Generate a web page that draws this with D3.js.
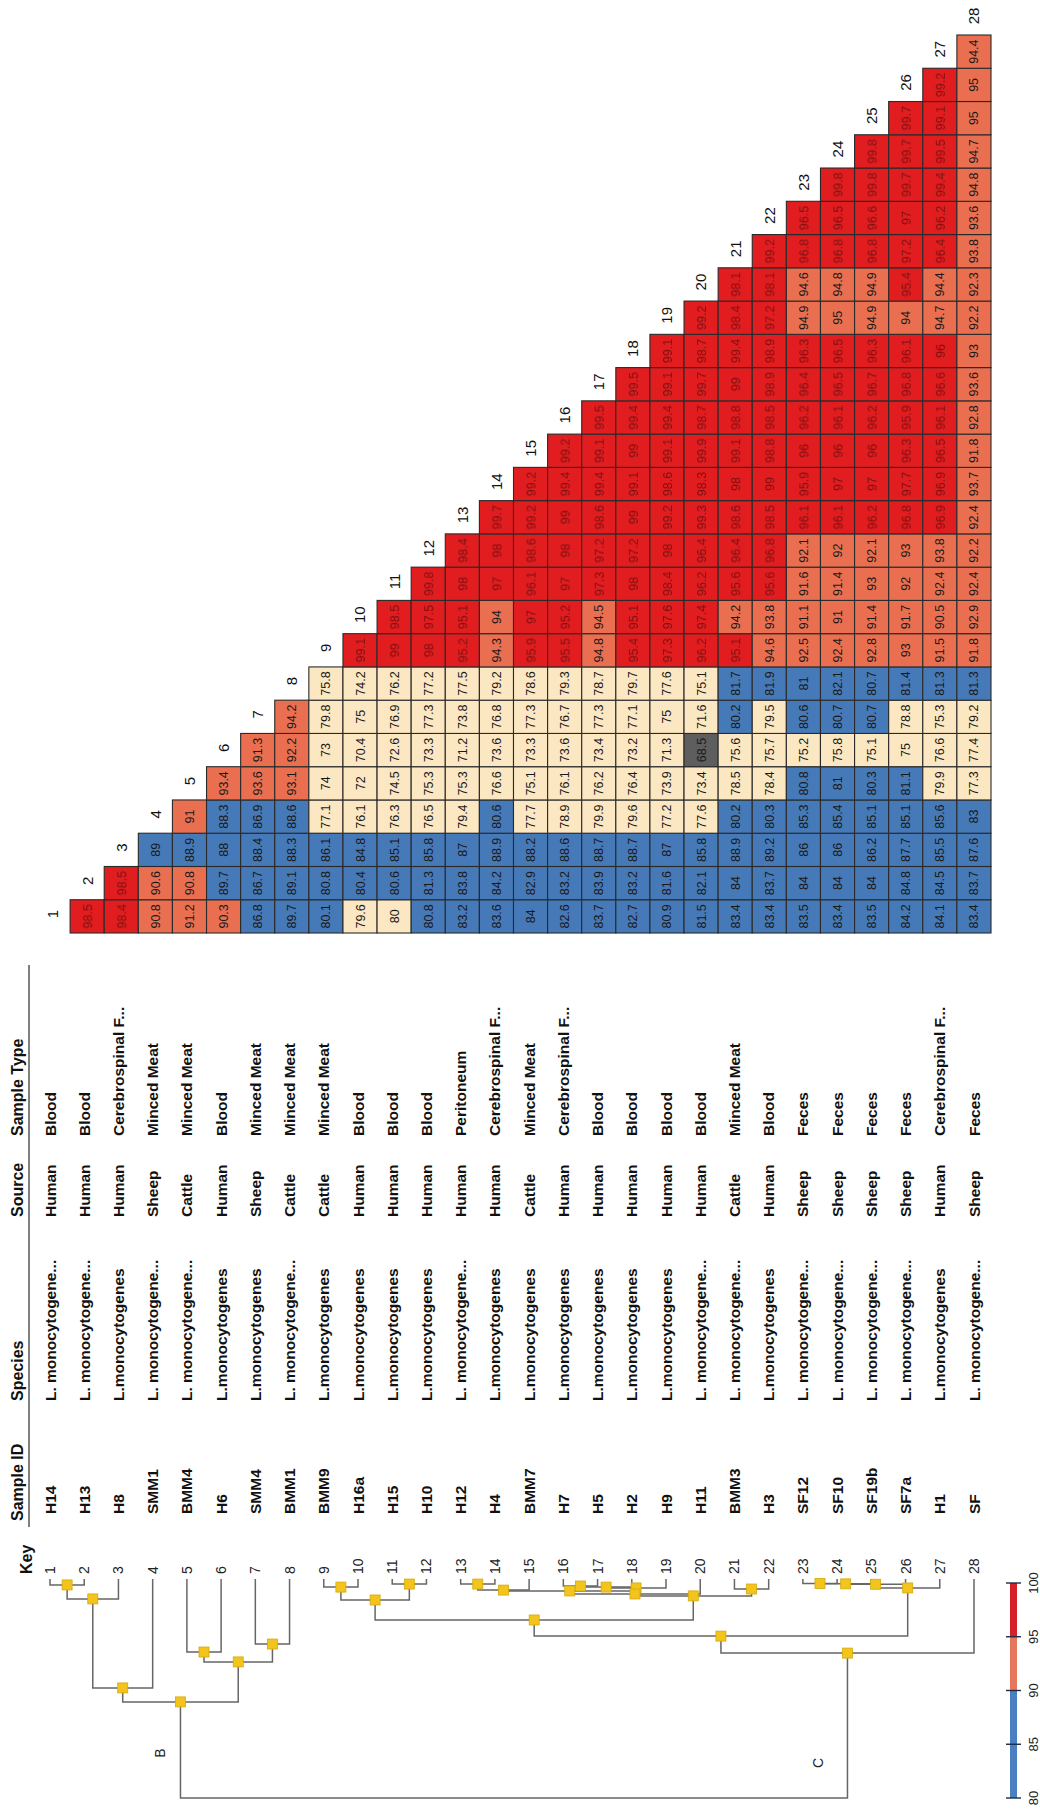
<!DOCTYPE html>
<html>
<head>
<meta charset="utf-8">
<script src="https://cdn.jsdelivr.net/npm/d3@7"></script>
<style>
  html, body { margin: 0; padding: 0; background: #ffffff; }
  svg { display: block; font-family: "Liberation Sans", Arial, Helvetica, sans-serif; }
</style>
</head>
<body>
<svg id="chart" width="1040" height="1811"></svg>
<script>
// ---- Isolate metadata (one entry per isolate, key 1..28) ----
const sampleIds = ["H14","H13","H8","SMM1","BMM4","H6","SMM4","BMM1","BMM9","H16a","H15","H10","H12","H4",
  "BMM7","H7","H5","H2","H9","H11","BMM3","H3","SF12","SF10","SF19b","SF7a","H1","SF"];
const speciesNames = ["L. monocytogene...","L. monocytogene...","L.monocytogenes","L. monocytogene...",
  "L. monocytogene...","L.monocytogenes","L.monocytogenes","L. monocytogene...","L.monocytogenes",
  "L.monocytogenes","L.monocytogenes","L.monocytogenes","L. monocytogene...","L.monocytogenes",
  "L.monocytogenes","L.monocytogenes","L.monocytogenes","L.monocytogenes","L.monocytogenes",
  "L. monocytogene...","L. monocytogene...","L.monocytogenes","L. monocytogene...","L. monocytogene...",
  "L. monocytogene...","L. monocytogene...","L.monocytogenes","L. monocytogene..."];
const sources = ["Human","Human","Human","Sheep","Cattle","Human","Sheep","Cattle","Cattle","Human",
  "Human","Human","Human","Human","Cattle","Human","Human","Human","Human","Human","Cattle","Human",
  "Sheep","Sheep","Sheep","Sheep","Human","Sheep"];
const sampleTypes = ["Blood","Blood","Cerebrospinal F...","Minced Meat","Minced Meat","Blood","Minced Meat",
  "Minced Meat","Minced Meat","Blood","Blood","Blood","Peritoneum","Cerebrospinal F...","Minced Meat",
  "Cerebrospinal F...","Blood","Blood","Blood","Blood","Minced Meat","Blood","Feces","Feces","Feces",
  "Feces","Cerebrospinal F...","Feces"];

// ---- Pairwise similarity (%), row i holds isolate i against isolates 1..i-1 ----
const similarityRows = [
  [],
  [98.5],
  [98.4, 98.5],
  [90.8, 90.6, 89],
  [91.2, 90.8, 88.9, 91],
  [90.3, 89.7, 88, 88.3, 93.4],
  [86.8, 86.7, 88.4, 86.9, 93.6, 91.3],
  [89.7, 89.1, 88.3, 88.6, 93.1, 92.2, 94.2],
  [80.1, 80.8, 86.1, 77.1, 74, 73, 79.8, 75.8],
  [79.6, 80.4, 84.8, 76.1, 72, 70.4, 75, 74.2, 99.1],
  [80, 80.6, 85.1, 76.3, 74.5, 72.6, 76.9, 76.2, 99, 98.5],
  [80.8, 81.3, 85.8, 76.5, 75.3, 73.3, 77.3, 77.2, 98, 97.5, 99.8],
  [83.2, 83.8, 87, 79.4, 75.3, 71.2, 73.8, 77.5, 95.2, 95.1, 98, 98.4],
  [83.6, 84.2, 88.9, 80.6, 76.6, 73.6, 76.8, 79.2, 94.3, 94, 97, 98, 99.7],
  [84, 82.9, 88.2, 77.7, 75.1, 73.3, 77.3, 78.6, 95.9, 97, 96.1, 98.6, 99.2, 99.2],
  [82.6, 83.2, 88.6, 78.9, 76.1, 73.6, 76.7, 79.3, 95.5, 95.2, 97, 98, 99, 99.4, 99.2],
  [83.7, 83.9, 88.7, 79.9, 76.2, 73.4, 77.3, 78.7, 94.8, 94.5, 97.3, 97.2, 98.6, 99.4, 99.1, 99.5],
  [82.7, 83.2, 88.7, 79.6, 76.4, 73.2, 77.1, 79.7, 95.4, 95.1, 98, 97.2, 99, 99.1, 99, 99.4, 99.5],
  [80.9, 81.6, 87, 77.2, 73.9, 71.3, 75, 77.6, 97.3, 97.6, 98.4, 98, 99.2, 98.6, 99.1, 99.4, 99.1, 99.1],
  [81.5, 82.1, 85.8, 77.6, 73.4, 68.5, 71.6, 75.1, 96.2, 97.4, 96.2, 96.4, 99.3, 98.3, 99.9, 98.7, 99.7, 98.7, 99.2],
  [83.4, 84, 88.9, 80.2, 78.5, 75.6, 80.2, 81.7, 95.1, 94.2, 95.6, 96.4, 98.6, 98, 99.1, 98.8, 99, 99.4, 98.4, 98.1],
  [83.4, 83.7, 89.2, 80.3, 78.4, 75.7, 79.5, 81.9, 94.6, 93.8, 95.6, 96.8, 98.5, 99, 98.8, 98.5, 98.9, 98.9, 97.2, 98.1, 99.2],
  [83.5, 84, 86, 85.3, 80.8, 75.2, 80.6, 81, 92.5, 91.1, 91.6, 92.1, 96.1, 95.9, 96, 96.2, 96.4, 96.3, 94.9, 94.6, 96.8, 96.5],
  [83.4, 84, 86, 85.4, 81, 75.8, 80.7, 82.1, 92.4, 91, 91.4, 92, 96.1, 97, 96, 96.1, 96.5, 96.5, 95, 94.8, 96.8, 96.5, 99.8],
  [83.5, 84, 86.2, 85.1, 80.3, 75.1, 80.7, 80.7, 92.8, 91.4, 93, 92.1, 96.2, 97, 96, 96.2, 96.7, 96.3, 94.9, 94.9, 96.8, 96.6, 99.8, 99.8],
  [84.2, 84.8, 87.7, 85.1, 81.1, 75, 78.8, 81.4, 93, 91.7, 92, 93, 96.8, 97.7, 96.3, 95.9, 96.8, 96.1, 94, 95.4, 97.2, 97, 99.7, 99.7, 99.7],
  [84.1, 84.5, 85.5, 85.6, 79.9, 76.6, 75.3, 81.3, 91.5, 90.5, 92.4, 93.8, 96.9, 96.9, 96.5, 96.1, 96.6, 96, 94.7, 94.4, 96.4, 96.2, 99.4, 99.5, 99.1, 99.2],
  [83.4, 83.7, 87.6, 83, 77.3, 77.4, 79.2, 81.3, 91.8, 92.9, 92.4, 92.2, 92.4, 93.7, 91.8, 92.8, 93.6, 93, 92.2, 92.3, 93.8, 93.6, 94.8, 94.7, 95, 95, 94.4]
];

// ---- Dendrogram (hclust-style: negative = isolate, positive = earlier merge) ----
const merges = [
  [-23, -24], [1, -25], [-11, -12], [-13, -14], [2, -26], [-1, -2], [-16, -17], [-9, -10],
  [7, -18], [9, -19], [5, -27], [-21, -22], [4, -15], [13, 10], [14, -20], [15, 12],
  [6, -3], [8, 3], [18, 16], [19, 11], [-7, -8], [-5, -6], [20, -28], [22, 21],
  [17, -4], [25, 24], [26, 23]
];
const mergeHeights = [0.2, 0.4, 0.5, 0.5, 0.6, 0.9, 1.4, 1.9, 1.9, 2.3, 2.3, 2.8, 3.3, 3.7, 5.1, 6.0,
  7.4, 7.9, 17.2, 24.7, 28.4, 32.1, 32.6, 36.7, 48.8, 55.3, 100];
const clusterLabels = [{ text: "B", x: 160, y: 1753 }, { text: "C", x: 818, y: 1763 }];

// ---- Colour key ----
const legendTicks = [80, 85, 90, 95, 100];
const legendBands = [
  { from: 80, to: 90, color: "#4a80bf" },
  { from: 90, to: 95, color: "#e5775c" },
  { from: 95, to: 100, color: "#d5202a" }
];

// ------------------------------------------------------------------
const svg = d3.select("#chart");
const isolates = d3.range(1, 29);

function cellColor(v) {
  if (v < 70) return "#5e5e5e";
  if (v <= 80) return "#fbe7c2";
  if (v <= 90) return "#4679b8";
  if (v <= 95) return "#ea6f51";
  return "#e21d20";
}

// Blur for the low-contrast numbers inside the red cells
const defs = svg.append("defs");
defs.append("filter").attr("id", "soft").append("feGaussianBlur").attr("stdDeviation", 0.45);

// ---- Heatmap (triangular) ----
const hx = d3.scaleBand().domain(isolates).range([36, 991]);
const hy = d3.scaleBand().domain(d3.range(1, 28)).range([933, 35]);

const cells = [];
similarityRows.forEach((row, r) => {
  row.forEach((v, c) => cells.push({ i: r + 1, j: c + 1, v }));
});

const heat = svg.append("g");
heat.selectAll("rect").data(cells).join("rect")
  .attr("x", d => hx(d.i))
  .attr("y", d => hy(d.j))
  .attr("width", hx.bandwidth())
  .attr("height", hy.bandwidth())
  .attr("fill", d => cellColor(d.v))
  .attr("stroke", "#2a2a2a")
  .attr("stroke-width", 1.1);

heat.selectAll("text.val").data(cells).join("text")
  .attr("class", "val")
  .attr("transform", d => `translate(${hx(d.i) + hx.bandwidth() / 2},${hy(d.j) + hy.bandwidth() / 2}) rotate(-90)`)
  .attr("text-anchor", "middle")
  .attr("dy", "0.36em")
  .attr("font-size", 12.5)
  .attr("fill", d => d.v > 95 ? "#7a1212" : "#1a1a1a")
  .attr("filter", d => d.v > 95 ? "url(#soft)" : null)
  .text(d => d.v);

// Column numbers along the staircase
heat.selectAll("text.col").data(isolates).join("text")
  .attr("class", "col")
  .attr("transform", i => {
    const top = i > 1 ? hy(i - 1) : hy(1) + hy.bandwidth();
    return `translate(${hx(i) + hx.bandwidth() / 2},${top - 19}) rotate(-90)`;
  })
  .attr("text-anchor", "middle")
  .attr("dy", "0.36em")
  .attr("font-size", 15)
  .attr("fill", "#111")
  .text(i => i);

// ---- Metadata table ----
const tx = d3.scalePoint().domain(isolates).range([50, 974]);
const table = svg.append("g");

const tableRows = [
  { header: "Sample Type", values: sampleTypes, y: 1136 },
  { header: "Source", values: sources, y: 1217 },
  { header: "Species", values: speciesNames, y: 1401 },
  { header: "Sample ID", values: sampleIds, y: 1514, headerY: 1521 }
];

tableRows.forEach(row => {
  table.append("g").selectAll("text").data(row.values).join("text")
    .attr("transform", (d, k) => `translate(${tx(k + 1)},${row.y}) rotate(-90)`)
    .attr("dy", "0.36em")
    .attr("font-size", 15.5)
    .attr("font-weight", "bold")
    .attr("fill", "#111")
    .text(d => d);
  table.append("text")
    .attr("transform", `translate(17,${row.headerY || row.y}) rotate(-90)`)
    .attr("dy", "0.36em")
    .attr("font-size", 16)
    .attr("font-weight", "bold")
    .attr("fill", "#111")
    .text(row.header);
});

table.append("line")
  .attr("x1", 29).attr("x2", 29).attr("y1", 965).attr("y2", 1527)
  .attr("stroke", "#555").attr("stroke-width", 1.5);

// Key numbers
table.append("text")
  .attr("transform", "translate(26,1574) rotate(-90)")
  .attr("dy", "0.36em")
  .attr("font-size", 16)
  .attr("font-weight", "bold")
  .attr("fill", "#111")
  .text("Key");
table.append("g").selectAll("text").data(isolates).join("text")
  .attr("transform", i => `translate(${tx(i)},1574) rotate(-90)`)
  .attr("dy", "0.36em")
  .attr("font-size", 14)
  .attr("fill", "#222")
  .text(i => i);

// ---- Dendrogram ----
const leafTop = 1579;
const dyScale = d3.scaleLinear().domain([0, 100]).range([1583, 1798]);
const nodes = [];
const nodeAt = ref => ref < 0 ? { x: tx(-ref), y: leafTop } : nodes[ref - 1];
const links = [];
merges.forEach((m, k) => {
  const a = nodeAt(m[0]), b = nodeAt(m[1]);
  const y = dyScale(mergeHeights[k]);
  links.push(`M${a.x},${a.y}V${y}H${b.x}V${b.y}`);
  nodes.push({ x: (a.x + b.x) / 2, y, root: k === merges.length - 1 });
});

const dendro = svg.append("g");
dendro.selectAll("path").data(links).join("path")
  .attr("d", d => d)
  .attr("fill", "none")
  .attr("stroke", "#666")
  .attr("stroke-width", 1.5);

dendro.selectAll("rect").data(nodes.filter(n => !n.root)).join("rect")
  .attr("x", n => n.x - 5).attr("y", n => n.y - 5)
  .attr("width", 10).attr("height", 10)
  .attr("fill", "#f2c41c")
  .attr("stroke", "#d6a90a")
  .attr("stroke-width", 0.8);

dendro.selectAll("text").data(clusterLabels).join("text")
  .attr("transform", d => `translate(${d.x},${d.y}) rotate(-90)`)
  .attr("text-anchor", "middle")
  .attr("dy", "0.36em")
  .attr("font-size", 14)
  .attr("fill", "#222")
  .text(d => d.text);

// ---- Colour key ----
const ly = d3.scaleLinear().domain([80, 100]).range([1798, 1583]);
const legend = svg.append("g");
legend.selectAll("rect").data(legendBands).join("rect")
  .attr("x", 1010).attr("width", 7)
  .attr("y", d => ly(d.to)).attr("height", d => ly(d.from) - ly(d.to))
  .attr("fill", d => d.color);
legend.selectAll("line").data(legendTicks).join("line")
  .attr("x1", 1006).attr("x2", 1021)
  .attr("y1", d => ly(d)).attr("y2", d => ly(d))
  .attr("stroke", "#1d2a44").attr("stroke-width", 1.4);
legend.selectAll("text").data(legendTicks).join("text")
  .attr("transform", d => `translate(1033,${ly(d)}) rotate(-90)`)
  .attr("text-anchor", "middle")
  .attr("dy", "0.36em")
  .attr("font-size", 13)
  .attr("fill", "#222")
  .text(d => d);
</script>
</body>
</html>
